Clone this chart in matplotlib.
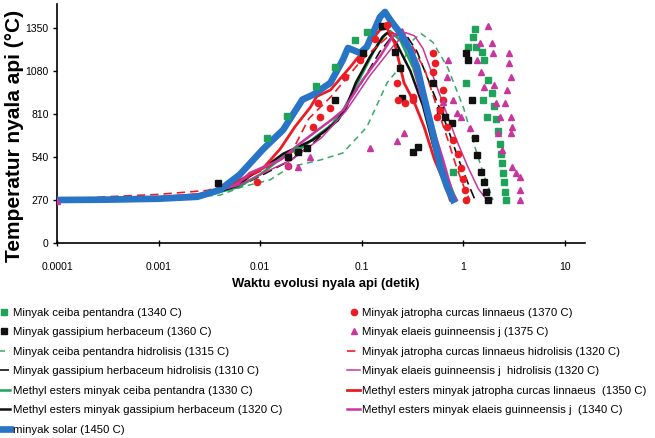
import matplotlib
matplotlib.use("Agg")
import matplotlib.pyplot as plt

NARROW = ["Liberation Sans Narrow", "Liberation Sans", "DejaVu Sans"]
WIDE = ["Liberation Sans", "DejaVu Sans"]

# ---------------- data (time in s, temperature in deg C) ----------------
# scatter series
ceiba_t = [0.0117, 0.0184, 0.0229, 0.0354, 0.055, 0.086, 0.112, 0.78, 1.07, 1.1, 1.23, 1.29, 1.32,
           1.52, 1.6, 1.55, 1.7, 1.75, 1.9, 2.0, 2.1, 2.2, 2.3, 2.35, 2.4, 2.45, 2.5, 2.55, 2.6]
ceiba_T = [659, 797, 584, 985, 1105, 1275, 1325, 446, 1005, 1231, 1290, 1340, 1230,
           1200, 1149, 898, 791, 1024, 940, 860, 780, 700, 620, 560, 500, 440, 380, 320, 270]

gass_t = [0.0038, 0.0187, 0.0236, 0.0289, 0.055, 0.102, 0.158, 0.213, 0.238, 0.25, 0.32, 0.36,
          0.50, 0.59, 0.66, 0.77, 1.07, 1.1, 1.2, 1.29, 1.37, 1.5, 1.6, 1.65, 1.75]
gass_T = [377, 540, 571, 597, 898, 1193, 1360, 1200, 1099, 910, 571, 603,
          1005, 835, 791, 754, 1193, 1149, 898, 659, 553, 446, 380, 320, 270]

jat_t = [0.0093, 0.0187, 0.033, 0.037, 0.039, 0.049, 0.068, 0.096, 0.135, 0.176, 0.22, 0.225,
         0.265, 0.32, 0.32, 0.50, 0.52, 0.50, 0.55, 0.59, 0.63, 0.63, 0.69, 0.78, 0.89, 0.95,
         0.99, 1.03, 1.06]
jat_T = [383, 484, 728, 879, 791, 848, 1040, 1150, 1280, 1370, 1005, 898,
         880, 898, 917, 1193, 1130, 1074, 791, 835, 961, 898, 728, 647, 560, 470,
         400, 330, 270]

elaeis_t = [0.0001, 0.0187, 0.0236, 0.0309, 0.12, 0.22, 0.26, 0.63, 0.69, 0.71, 0.78, 0.87, 0.95,
            1.16, 1.37, 1.44, 1.5, 1.6, 1.74, 1.9, 1.96, 2.0, 2.1, 2.2, 2.3, 2.4, 2.55, 2.7,
            2.8, 2.8, 2.95, 2.95, 2.95, 3.0, 3.0, 3.3, 3.6, 3.6, 3.6]
elaeis_T = [265, 490, 477, 540, 597, 640, 690, 885, 1043, 1149, 898, 816, 791,
            720, 1149, 1256, 1074, 980, 1360, 1256, 1193, 992, 879, 690, 791, 584, 879, 961,
            1193, 1130, 1043, 791, 690, 728, 477, 440, 414, 333, 270]

# line series
ceiba_h_t = [0.0001, 0.001, 0.004, 0.0066, 0.0125, 0.0196, 0.039, 0.065, 0.112, 0.177, 0.238,
             0.32, 0.38, 0.5, 0.7, 1.0, 1.3, 1.6, 1.95]
ceiba_h_T = [270, 280, 300, 352, 396, 477, 521, 565, 728, 1005, 1105,
             1275, 1315, 1260, 1100, 850, 600, 420, 270]

gass_h_t = [0.0001, 0.001, 0.003, 0.006, 0.01, 0.02, 0.035, 0.06, 0.1, 0.15, 0.2, 0.27, 0.35,
            0.5, 0.7, 0.9, 1.1, 1.3]
gass_h_T = [270, 285, 300, 350, 420, 520, 640, 800, 1010, 1200, 1300, 1310, 1200,
            950, 720, 520, 380, 270]

me_ceiba_t = [0.0001, 0.001, 0.003, 0.006, 0.01, 0.0184, 0.026, 0.035, 0.05, 0.065, 0.09, 0.13,
              0.17, 0.19, 0.24, 0.32, 0.42, 0.55, 0.7, 0.85]
me_ceiba_T = [270, 282, 300, 350, 430, 560, 600, 666, 740, 830, 1000, 1200,
              1310, 1330, 1270, 1100, 850, 600, 400, 270]

me_gass_t = [0.0001, 0.001, 0.003, 0.006, 0.0079, 0.0125, 0.0168, 0.023, 0.033, 0.045, 0.058,
             0.07, 0.087, 0.12, 0.16, 0.18, 0.22, 0.3, 0.4, 0.5, 0.62, 0.78]
me_gass_T = [270, 282, 300, 360, 420, 500, 560, 600, 647, 710, 770,
             850, 1005, 1168, 1294, 1320, 1250, 1080, 860, 620, 420, 270]

solar_t = [0.0001, 0.0003, 0.001, 0.0024, 0.004, 0.0063, 0.0107, 0.0168, 0.026, 0.033, 0.049,
           0.065, 0.073, 0.096, 0.112, 0.151, 0.169, 0.19, 0.238, 0.298, 0.349, 0.40, 0.50,
           0.59, 0.69, 0.79]
solar_T = [270, 272, 278, 290, 333, 430, 590, 710, 900, 930, 1005,
           1149, 1224, 1193, 1231, 1419, 1450, 1400, 1318, 1212, 1105, 942, 690,
           477, 352, 270]

jat_h_t = [0.0001, 0.0003, 0.001, 0.003, 0.006, 0.01, 0.02, 0.03, 0.05, 0.1, 0.2, 0.3, 0.42,
           0.55, 0.7, 0.85, 1.0, 1.15]
jat_h_T = [270, 290, 305, 330, 380, 450, 560, 780, 920, 1150, 1320, 1260, 1080,
           850, 650, 480, 360, 270]

elaeis_h_t = [0.0001, 0.001, 0.003, 0.006, 0.01, 0.02, 0.04, 0.07, 0.12, 0.2, 0.27, 0.33, 0.4,
              0.5, 0.65, 0.85, 1.1, 1.4, 1.7]
elaeis_h_T = [270, 290, 310, 360, 430, 520, 660, 830, 1050, 1230, 1320, 1300, 1220,
              1050, 850, 650, 480, 340, 270]

me_jat_t = [0.0001, 0.001, 0.003, 0.005, 0.007, 0.0107, 0.0157, 0.022, 0.031, 0.036, 0.049,
            0.077, 0.105, 0.151, 0.176, 0.21, 0.26, 0.33, 0.41, 0.52, 0.65, 0.74]
me_jat_T = [270, 285, 310, 365, 410, 470, 590, 730, 850, 920, 960,
            1105, 1212, 1338, 1350, 1256, 1005, 879, 728, 521, 377, 270]

me_elaeis_t = [0.0001, 0.001, 0.003, 0.006, 0.0079, 0.0157, 0.025, 0.037, 0.05, 0.066, 0.102,
               0.15, 0.2, 0.25, 0.3, 0.374, 0.5, 0.63, 0.78, 0.86]
me_elaeis_T = [270, 285, 305, 370, 440, 521, 628, 710, 772, 835, 1024,
               1168, 1294, 1340, 1220, 942, 728, 521, 314, 270]

labels = [
    "Minyak ceiba pentandra (1340 C)",
    "Minyak gassipium herbaceum (1360 C)",
    "Minyak ceiba pentandra hidrolisis (1315 C)",
    "Minyak gassipium herbaceum hidrolisis (1310 C)",
    "Methyl esters minyak ceiba pentandra (1330 C)",
    "Methyl esters minyak gassipium herbaceum (1320 C)",
    "minyak solar (1450 C)",
    "Minyak jatropha curcas linnaeus (1370 C)",
    "Minyak elaeis guinneensis j (1375 C)",
    "Minyak jatropha curcas linnaeus hidrolisis (1320 C)",
    "Minyak elaeis guinneensis j  hidrolisis (1320 C)",
    "Methyl esters minyak jatropha curcas linnaeus  (1350 C)",
    "Methyl esters minyak elaeis guinneensis j  (1340 C)",
]
yticks = [0, 270, 540, 810, 1080, 1350]
xticks = [0.0001, 0.001, 0.01, 0.1, 1, 10]
xticklabels = ["0.0001", "0.001", "0.01", "0.1", "1", "10"]

GREEN = "#1fa35a"
BLACK = "#111111"
RED = "#ec1c24"
MAG = "#c8359e"
BLUE = "#2874c6"

W, H = 655, 438
fig = plt.figure(figsize=(W / 100, H / 100), dpi=100)
ax = fig.add_axes([57 / W, 1 - 243 / H, 528 / W, 239 / H])

h = {}
h[2] = ax.plot(ceiba_h_t, ceiba_h_T, color="#3aa86a", ls=(0, (4, 3)), lw=1.1, zorder=2)[0]
h[3] = ax.plot(gass_h_t, gass_h_T, color=BLACK, ls=(0, (6, 3)), lw=1.2, zorder=2)[0]
h[4] = ax.plot(me_ceiba_t, me_ceiba_T, color=GREEN, lw=1.8, zorder=2)[0]
h[5] = ax.plot(me_gass_t, me_gass_T, color=BLACK, lw=1.8, zorder=2)[0]
h[9] = ax.plot(jat_h_t, jat_h_T, color=RED, ls=(0, (5, 3)), lw=1.2, zorder=2)[0]
h[10] = ax.plot(elaeis_h_t, elaeis_h_T, color=MAG, lw=1.1, zorder=2)[0]
h[11] = ax.plot(me_jat_t, me_jat_T, color=RED, lw=2.0, zorder=2)[0]
h[12] = ax.plot(me_elaeis_t, me_elaeis_T, color=MAG, lw=1.8, zorder=2)[0]
h[6] = ax.plot(solar_t, solar_T, color=BLUE, lw=4.8, zorder=3, solid_joinstyle="round")[0]
h[0] = ax.plot(ceiba_t, ceiba_T, ls="none", marker="s", ms=4, color=GREEN, zorder=4)[0]
h[1] = ax.plot(gass_t, gass_T, ls="none", marker="s", ms=4, color=BLACK, zorder=4)[0]
h[7] = ax.plot(jat_t, jat_T, ls="none", marker="o", ms=4.5, color=RED, zorder=4)[0]
h[8] = ax.plot(elaeis_t, elaeis_T, ls="none", marker="^", ms=5, color=MAG, zorder=4)[0]

ax.set_xscale("log")
ax.set_xlim(1e-4, 15.7)
ax.set_ylim(0, 1500)
ax.set_yticks(yticks)
ax.set_xticks(xticks)
ax.set_xticklabels(xticklabels)
ax.xaxis.set_minor_locator(matplotlib.ticker.NullLocator())
for s in ("top", "right"):
    ax.spines[s].set_visible(False)
for s in ("left", "bottom"):
    ax.spines[s].set_linewidth(1.2)
ax.tick_params(axis="y", direction="out", length=3, width=1, pad=3, labelsize=7.5)
ax.tick_params(axis="x", direction="inout", length=5, width=1, pad=11, labelsize=7.5)
for lab in ax.get_xticklabels() + ax.get_yticklabels():
    lab.set_family(NARROW)

fig.text(15 / W, 1 - 136 / H, "Temperatur nyala api (\u00b0C)", rotation=90, ha="center",
         va="center", fontsize=15, fontweight="bold", family=WIDE)
fig.text(326 / W, 1 - 284 / H, "Waktu evolusi nyala api (detik)", ha="center", va="center",
         fontsize=9.4, fontweight="bold", family=NARROW)

leg_kw = dict(frameon=False, loc="upper left", borderpad=0, borderaxespad=0,
              handlelength=1.15, handletextpad=0.2, labelspacing=0.83,
              prop={"family": NARROW, "size": 8.2}, markerscale=1.0)
left_idx = [0, 1, 2, 3, 4, 5, 6]
right_idx = [7, 8, 9, 10, 11, 12]
leg1 = fig.legend([h[i] for i in left_idx], [labels[i] for i in left_idx],
                  bbox_to_anchor=(-0.004, 1 - 308 / H), **leg_kw)
leg2 = fig.legend([h[i] for i in right_idx], [labels[i] for i in right_idx],
                  bbox_to_anchor=(347 / W, 1 - 308 / H), **leg_kw)

fig.savefig("out.png", dpi=100)
